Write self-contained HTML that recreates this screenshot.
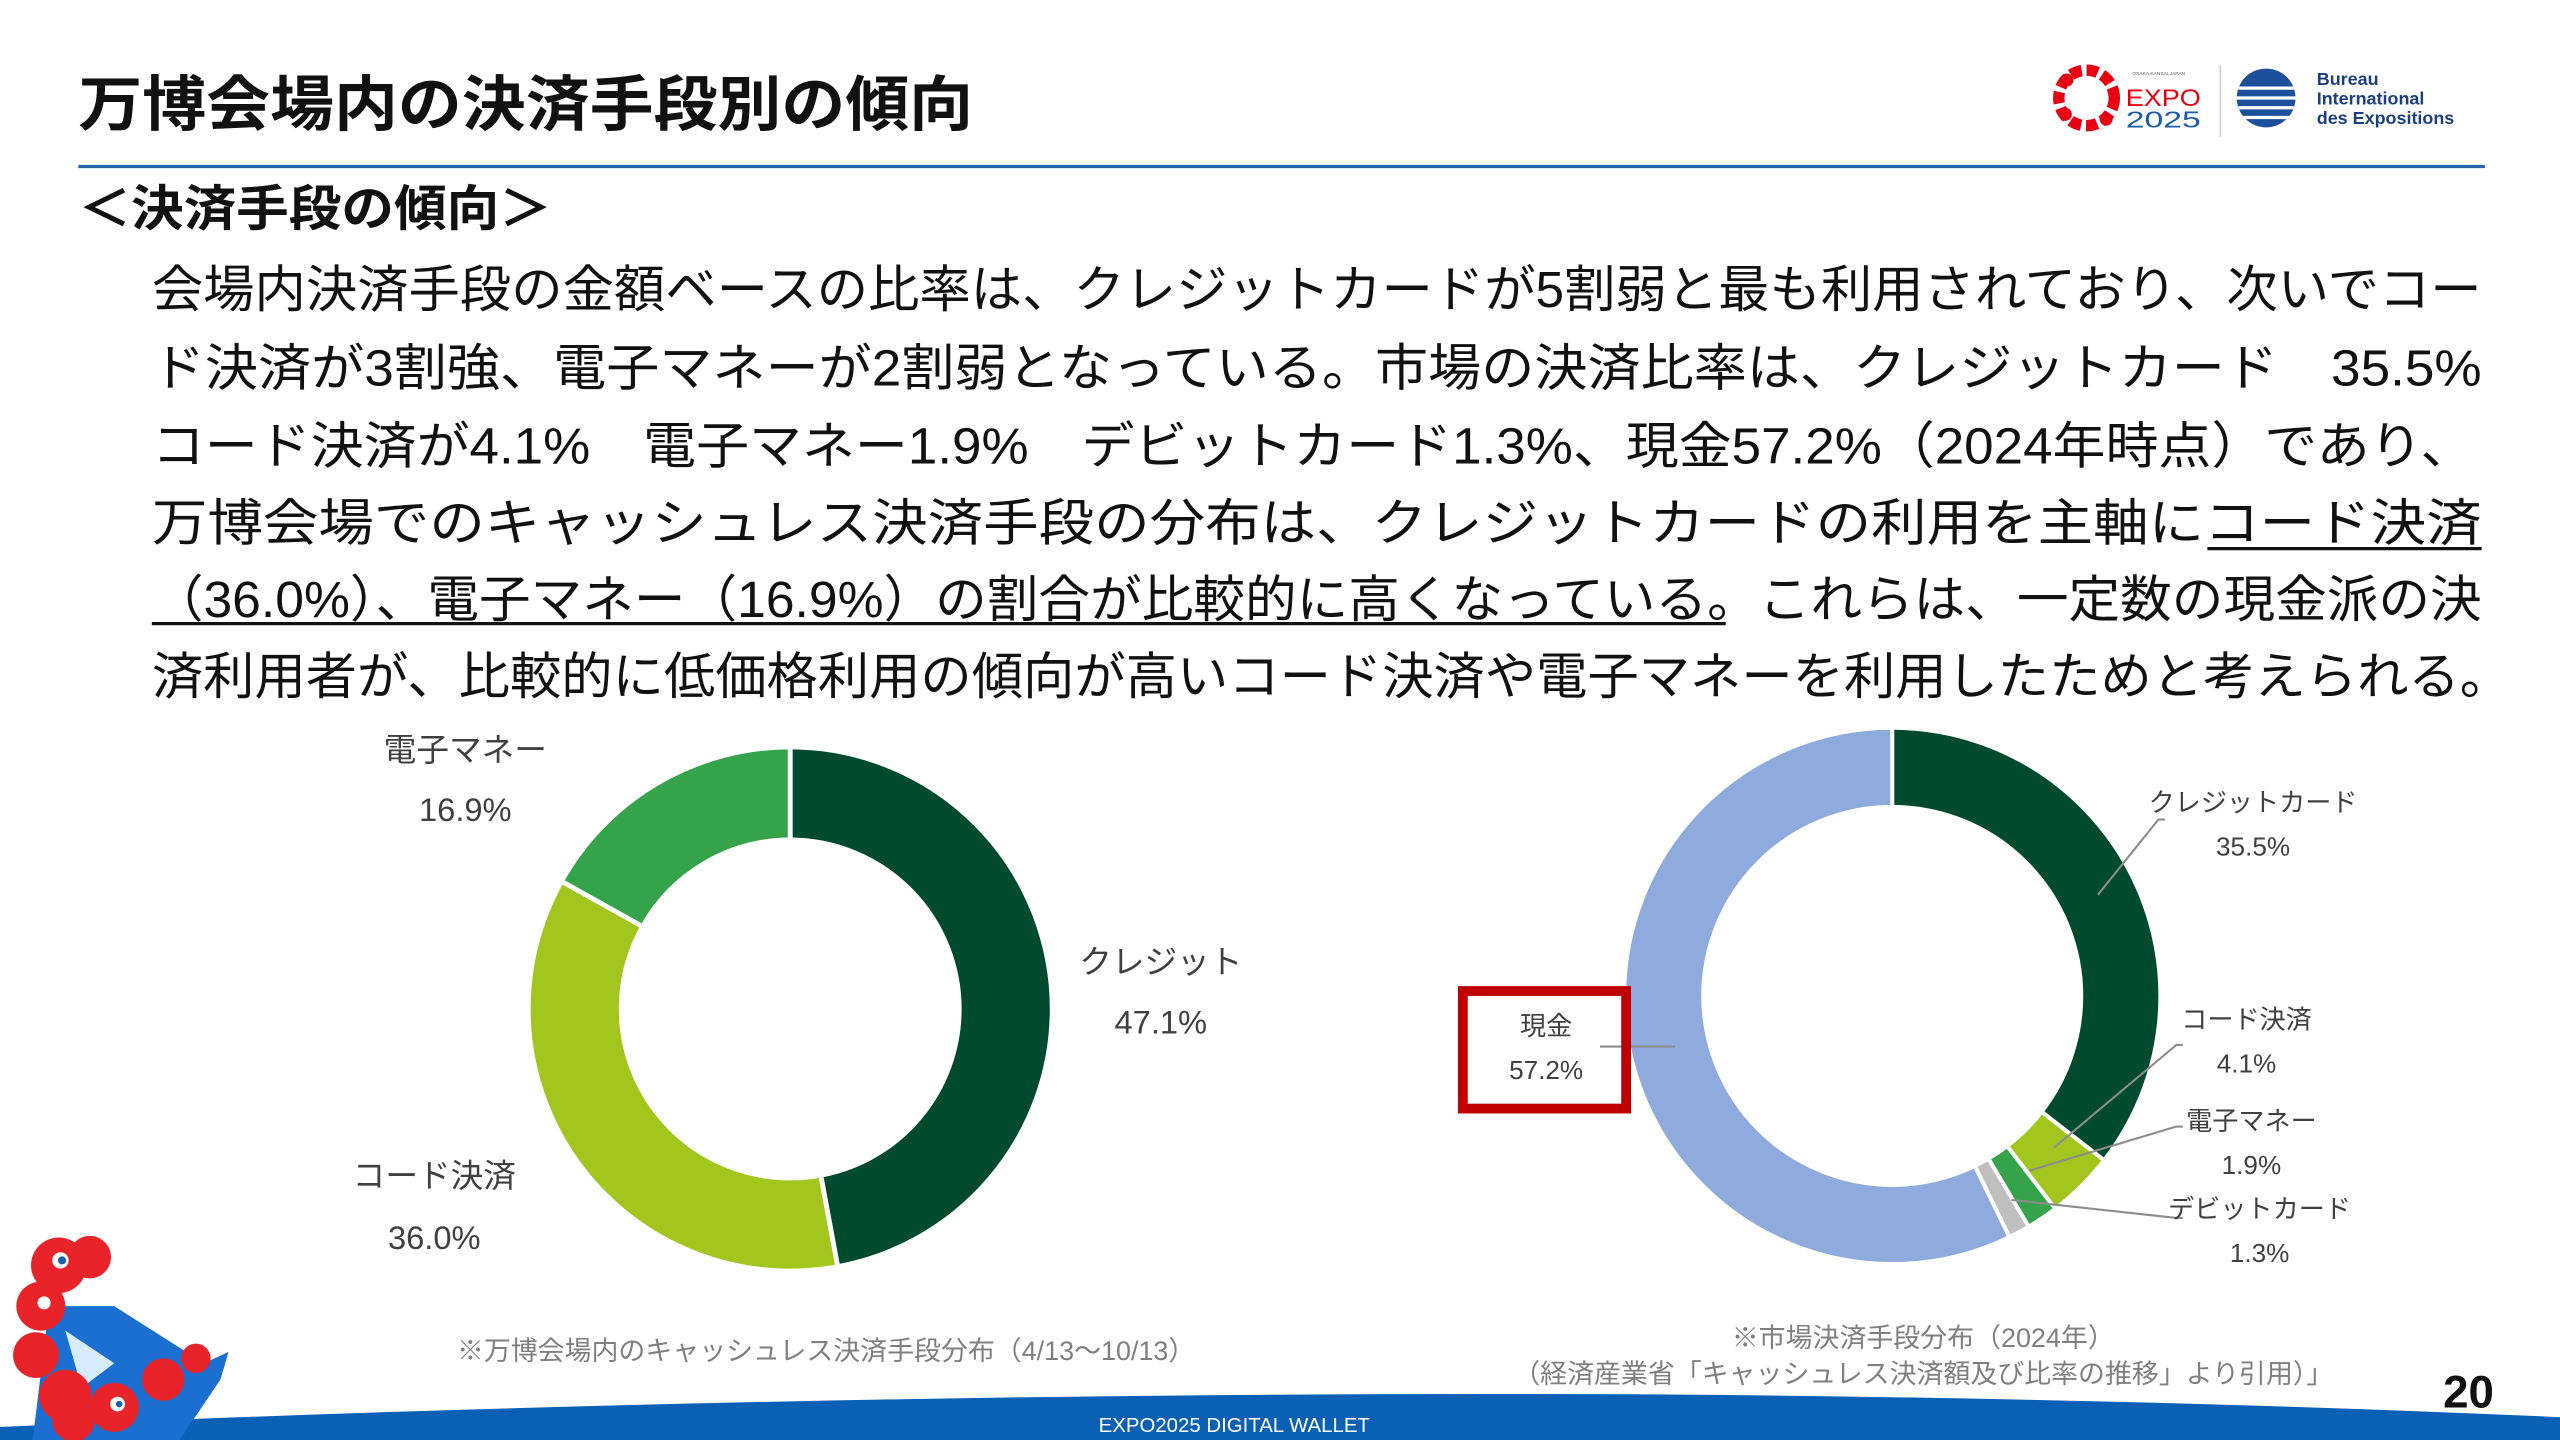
<!DOCTYPE html>
<html><head><meta charset="utf-8">
<style>
html,body{margin:0;padding:0;background:#fff;}
svg{display:block;}
text{font-family:"Liberation Sans","Noto Sans CJK JP",sans-serif;}
</style></head>
<body>
<svg width="2560" height="1440" viewBox="0 0 1568 882" preserveAspectRatio="none" xmlns="http://www.w3.org/2000/svg">
<rect width="1568" height="882" fill="#fff"/>
<text x="48" y="77" font-size="37" font-weight="bold" fill="#111" textLength="548" lengthAdjust="spacingAndGlyphs">万博会場内の決済手段別の傾向</text>
<line x1="48" y1="102" x2="1522" y2="102" stroke="#2a64a8" stroke-width="2"/>
<g>
<circle cx="1278" cy="60" r="17" fill="none" stroke="#e60012" stroke-width="7" stroke-dasharray="7 3"/>
<circle cx="1266" cy="49" r="4" fill="#e60012"/><circle cx="1290" cy="73" r="4" fill="#e60012"/><circle cx="1265" cy="70" r="4" fill="#e60012"/>
<text x="1302" y="65" font-size="15" fill="#e60012" textLength="46" lengthAdjust="spacingAndGlyphs">EXPO</text>
<text x="1302" y="78" font-size="14" fill="#1c5ba8" textLength="46" lengthAdjust="spacingAndGlyphs">2025</text>
<text x="1306" y="46" font-size="3" fill="#555">OSAKA,KANSAI,JAPAN</text>
<line x1="1360" y1="40" x2="1360" y2="84" stroke="#ccc" stroke-width="1"/>
<circle cx="1388" cy="60" r="18" fill="#1c4f9c"/>
<g stroke="#fff" stroke-width="2"><line x1="1371" y1="54" x2="1405" y2="54"/><line x1="1370" y1="60" x2="1406" y2="60"/><line x1="1371" y1="66" x2="1405" y2="66"/><line x1="1374" y1="72" x2="1402" y2="72"/></g>
<text x="1419" y="52" font-size="11" fill="#1c3f80" font-weight="bold">Bureau</text>
<text x="1419" y="64" font-size="11" fill="#1c3f80" font-weight="bold">International</text>
<text x="1419" y="76" font-size="11" fill="#1c3f80" font-weight="bold">des Expositions</text>
</g>
<text x="48" y="138" font-size="30" font-weight="bold" fill="#111" textLength="290" lengthAdjust="spacingAndGlyphs">＜決済手段の傾向＞</text>
<g font-size="31" fill="#111">
<text x="93" y="188" textLength="1427" lengthAdjust="spacingAndGlyphs">会場内決済手段の金額ベースの比率は、クレジットカードが5割弱と最も利用されており、次いでコー</text>
<text x="93" y="236" textLength="1427" lengthAdjust="spacingAndGlyphs">ド決済が3割強、電子マネーが2割弱となっている。市場の決済比率は、クレジットカード　35.5%</text>
<text x="93" y="284" textLength="1422" lengthAdjust="spacingAndGlyphs">コード決済が4.1%　電子マネー1.9%　デビットカード1.3%、現金57.2%（2024年時点）であり、</text>
<text x="93" y="331" textLength="1427" lengthAdjust="spacingAndGlyphs">万博会場でのキャッシュレス決済手段の分布は、クレジットカードの利用を主軸にコード決済</text>
<text x="93" y="378" textLength="1427" lengthAdjust="spacingAndGlyphs">（36.0%）、電子マネー（16.9%）の割合が比較的に高くなっている。これらは、一定数の現金派の決</text>
<text x="93" y="425" textLength="1445" lengthAdjust="spacingAndGlyphs">済利用者が、比較的に低価格利用の傾向が高いコード決済や電子マネーを利用したためと考えられる。</text>
</g>
<line x1="1352" y1="336" x2="1520" y2="336" stroke="#111" stroke-width="2"/>
<line x1="93" y1="382" x2="1057" y2="382" stroke="#111" stroke-width="2"/>

<g transform="rotate(-90 484 618)" fill="none" stroke-width="54">
<circle cx="484" cy="618" r="132" stroke="#004b30" stroke-dasharray="393.6 2000"/>
<circle cx="484" cy="618" r="132" stroke="#a3c61f" stroke-dasharray="298.6 2000" stroke-dashoffset="-390.7"/>
<circle cx="484" cy="618" r="132" stroke="#35a34a" stroke-dasharray="140.2 2000" stroke-dashoffset="-689.3"/>
</g>
<g stroke="#fff" stroke-width="3">
<line x1="484" y1="515" x2="484" y2="455"/>
<line x1="503" y1="721.3" x2="513.2" y2="776.3"/>
<line x1="392.3" y1="566.8" x2="343.4" y2="539.5"/>
</g>
<g font-size="20" fill="#404040" text-anchor="middle">
<text x="285" y="466">電子マネー</text><text x="285" y="503">16.9%</text>
<text x="711" y="596">クレジット</text><text x="711" y="633">47.1%</text>
<text x="266" y="727">コード決済</text><text x="266" y="765">36.0%</text>
</g>

<g transform="rotate(-90 1159 610)" fill="none" stroke-width="46">
<circle cx="1159" cy="610" r="140" stroke="#004b30" stroke-dasharray="312.3 2000"/>
<circle cx="1159" cy="610" r="140" stroke="#a3c61f" stroke-dasharray="36.1 2000" stroke-dashoffset="-312.3"/>
<circle cx="1159" cy="610" r="140" stroke="#35a34a" stroke-dasharray="16.7 2000" stroke-dashoffset="-348.4"/>
<circle cx="1159" cy="610" r="140" stroke="#bfbfbf" stroke-dasharray="11.4 2000" stroke-dashoffset="-365.1"/>
<circle cx="1159" cy="610" r="140" stroke="#8faadc" stroke-dasharray="503.2 2000" stroke-dashoffset="-376.5"/>
</g>
<g stroke="#fff" stroke-width="2.5">
<line x1="1159" y1="494" x2="1159" y2="446"/>
<line x1="1250.7" y1="681.1" x2="1288.6" y2="710.5"/>
<line x1="1229.5" y1="702.1" x2="1258.7" y2="740.2"/>
<line x1="1218" y1="709.8" x2="1242.5" y2="751.2"/>
<line x1="1209.7" y1="714.3" x2="1230.7" y2="757.5"/>
</g>
<g stroke="#8c8c8c" stroke-width="1.3" fill="none">
<polyline points="1285,548 1322,502 1326,502"/>
<polyline points="1258,703 1333,640 1337,640"/>
<polyline points="1243,717 1333,690 1337,690"/>
<polyline points="1232,735 1333,746 1337,746"/>
<line x1="980" y1="641" x2="1026" y2="641"/>
</g>
<rect x="896" y="607" width="100" height="72" fill="none" stroke="#c00000" stroke-width="6"/>
<g font-size="16" fill="#404040" text-anchor="middle">
<text x="947" y="634">現金</text><text x="947" y="661">57.2%</text>
<text x="1380" y="497">クレジットカード</text><text x="1380" y="524">35.5%</text>
<text x="1376" y="630">コード決済</text><text x="1376" y="657">4.1%</text>
<text x="1379" y="692">電子マネー</text><text x="1379" y="719">1.9%</text>
<text x="1384" y="746">デビットカード</text><text x="1384" y="773">1.3%</text>
</g>

<g font-size="16.5" fill="#7f7f7f" text-anchor="middle">
<text x="506" y="833">※万博会場内のキャッシュレス決済手段分布（4/13～10/13）</text>
<text x="1178" y="825">※市場決済手段分布（2024年）</text>
<text x="1178" y="847">（経済産業省「キャッシュレス決済額及び比率の推移」より引用）」</text>
</g>

<path d="M0,874 Q500,852 1000,854 Q1300,856 1568,868 L1568,882 L0,882 Z" fill="#0a60b5"/>
<text x="1512" y="862" font-size="28" font-weight="bold" fill="#111" text-anchor="middle">20</text>
<text x="756" y="877" font-size="12.5" fill="#fff" text-anchor="middle">EXPO2025 DIGITAL WALLET</text>

<g>
<path d="M30,800 L70,800 L125,835 L140,828 L135,845 L110,882 L20,882 Z" fill="#1a6fd0"/>
<path d="M40,815 L70,835 L50,850 Z" fill="#d8ecff"/>
<circle cx="36" cy="775" r="17" fill="#e8242a"/>
<circle cx="55" cy="770" r="13" fill="#e8242a"/>
<circle cx="25" cy="800" r="15" fill="#e8242a"/>
<circle cx="22" cy="830" r="14" fill="#e8242a"/>
<circle cx="40" cy="855" r="16" fill="#e8242a"/>
<circle cx="70" cy="862" r="15" fill="#e8242a"/>
<circle cx="100" cy="845" r="13" fill="#e8242a"/>
<circle cx="120" cy="832" r="9" fill="#e8242a"/>
<circle cx="45" cy="870" r="13" fill="#e8242a"/>
<circle cx="37" cy="772" r="5" fill="#fff"/><circle cx="38" cy="772" r="2.5" fill="#1a5fb4"/>
<circle cx="27" cy="798" r="4" fill="#fff"/><circle cx="72" cy="860" r="4.5" fill="#fff"/><circle cx="73" cy="860" r="2" fill="#1a5fb4"/>
</g>
</svg>
</body></html>
